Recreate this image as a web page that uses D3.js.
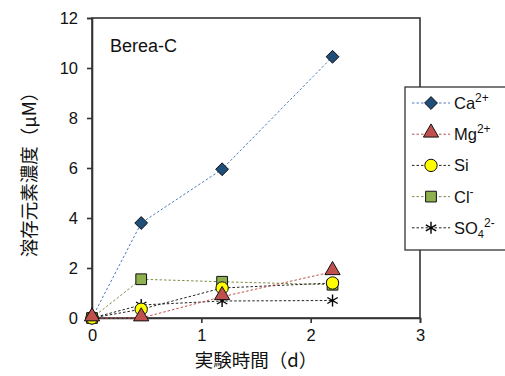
<!DOCTYPE html>
<html>
<head>
<meta charset="utf-8">
<script src="https://cdn.jsdelivr.net/npm/d3@7"></script>
<style>
  html, body { margin: 0; padding: 0; background: #fff; }
  svg { display: block; }
  text { font-family: "Liberation Sans", Arial, sans-serif; fill: #111; }
  .cjk { font-family: "Noto Sans CJK JP", sans-serif; font-weight: 400; }
</style>
</head>
<body>
<svg id="chart" width="505" height="376"></svg>
<script>
// Elapsed days of the dissolution experiment
const days = [0, 0.45, 1.19, 2.2];
// Dissolved concentrations (µM)
const ca  = [0, 3.8, 5.95, 10.45];
const mg  = [0, 0, 0.85, 1.85];
const si  = [0, 0.35, 1.2, 1.4];
const cl  = [0, 1.55, 1.45, 1.33];
const so4 = [0, 0.52, 0.68, 0.7];

const xTicks = [0, 1, 2, 3];
const yTicks = [0, 2, 4, 6, 8, 10, 12];

const series = [
  { key: "Ca",  values: ca,  shape: "diamond",  fill: "#1f4e79", line: "#4f7dc0", label: ["Ca", "2+", ""] },
  { key: "Cl",  values: cl,  shape: "square",   fill: "#8fb04e", line: "#7a8f4a", label: ["Cl", "-", ""] },
  { key: "SO4", values: so4, shape: "star",     fill: "#000",    line: "#222",    label: ["SO", "2-", "4"] },
  { key: "Si",  values: si,  shape: "circle",   fill: "#ffff00", line: "#222",    label: ["Si", "", ""] },
  { key: "Mg",  values: mg,  shape: "triangle", fill: "#c0504d", line: "#c0504d", label: ["Mg", "2+", ""] }
];
const legendOrder = ["Ca", "Mg", "Si", "Cl", "SO4"];

const svg = d3.select("#chart");
const plot = { left: 92, right: 420, top: 18, bottom: 318 };

const x = d3.scaleLinear().domain([0, 3]).range([plot.left, plot.right]);
const y = d3.scaleLinear().domain([0, 12]).range([plot.bottom, plot.top]);

// Frame around plot area
svg.append("rect")
  .attr("x", plot.left).attr("y", plot.top)
  .attr("width", plot.right - plot.left).attr("height", plot.bottom - plot.top)
  .attr("fill", "none").attr("stroke", "#333").attr("stroke-width", 1.6);

// Axes
const xAxis = svg.append("g")
  .attr("transform", `translate(0,${plot.bottom})`)
  .call(d3.axisBottom(x).tickValues(xTicks).tickFormat(d3.format("d")).tickSize(5).tickPadding(6));
const yAxis = svg.append("g")
  .attr("transform", `translate(${plot.left},0)`)
  .call(d3.axisLeft(y).tickValues(yTicks).tickFormat(d3.format("d")).tickSize(5).tickPadding(9));
[xAxis, yAxis].forEach(a => {
  a.select(".domain").attr("stroke", "#333").attr("stroke-width", 1.6);
  a.selectAll(".tick line").attr("stroke", "#333").attr("stroke-width", 1.6);
  a.selectAll(".tick text").attr("font-size", 16.5).attr("fill", "#111")
    .attr("font-family", "'Liberation Sans', Arial, sans-serif");
});

// Axis titles
svg.append("text").attr("class", "cjk")
  .attr("x", 256).attr("y", 367).attr("text-anchor", "middle")
  .attr("font-size", 18.5).text("実験時間（d）");
svg.append("text").attr("class", "cjk")
  .attr("transform", "translate(36,170) rotate(-90)")
  .attr("text-anchor", "middle").attr("font-size", 18.5).text("溶存元素濃度（μM）");

// Sample label
svg.append("text").attr("x", 110).attr("y", 52).attr("font-size", 18).text("Berea-C");

const symbolFor = {
  diamond: d3.symbol().type(d3.symbolDiamond2).size(105),
  square: d3.symbol().type(d3.symbolSquare).size(115),
  circle: d3.symbol().type(d3.symbolCircle).size(120),
  triangle: d3.symbol().type(d3.symbolTriangle).size(100),
  star: d3.symbol().type(d3.symbolAsterisk).size(100)
};

function drawMarker(g, s, cx, cy) {
  const p = g.append("path")
    .attr("d", symbolFor[s.shape]())
    .attr("transform", `translate(${cx},${cy})`);
  if (s.shape === "star") {
    p.attr("fill", "none").attr("stroke", "#000").attr("stroke-width", 1.4);
  } else {
    p.attr("fill", s.fill).attr("stroke", "#111").attr("stroke-width", 1);
  }
  return p;
}

// Series lines and markers
const lineGen = d3.line().x(d => x(d[0])).y(d => y(d[1]));
series.forEach(s => {
  const pts = days.map((d, i) => [d, s.values[i]]);
  svg.append("path").datum(pts)
    .attr("d", lineGen).attr("fill", "none")
    .attr("stroke", s.line).attr("stroke-width", 1).attr("stroke-dasharray", "2.5,2");
});
series.forEach(s => {
  const g = svg.append("g");
  days.forEach((d, i) => {
    let cy = y(s.values[i]);
    if (s.shape === "triangle") cy -= 1.5;
    drawMarker(g, s, x(d), cy);
  });
});

// Legend
const legend = svg.append("g");
legend.append("rect").attr("x", 405).attr("y", 87).attr("width", 110).attr("height", 163)
  .attr("fill", "#fff").attr("stroke", "#333").attr("stroke-width", 1.3);
legendOrder.forEach((k, i) => {
  const s = series.find(d => d.key === k);
  const ly = 103 + i * 31.2;
  legend.append("line").attr("x1", 412).attr("x2", 450).attr("y1", ly).attr("y2", ly)
    .attr("stroke", s.line).attr("stroke-width", 1).attr("stroke-dasharray", "2.5,2");
  drawMarker(legend, s, 431, s.shape === "triangle" ? ly - 1.5 : ly);
  const t = legend.append("text").attr("x", 454).attr("y", ly + 6).attr("font-size", 16.5);
  t.append("tspan").text(s.label[0]);
  if (s.label[2]) t.append("tspan").attr("font-size", 11).attr("dy", 4).text(s.label[2]);
  if (s.label[1]) t.append("tspan").attr("font-size", 12)
    .attr("dy", s.label[2] ? -11 : -7).text(s.label[1]);
});
</script>
</body>
</html>
